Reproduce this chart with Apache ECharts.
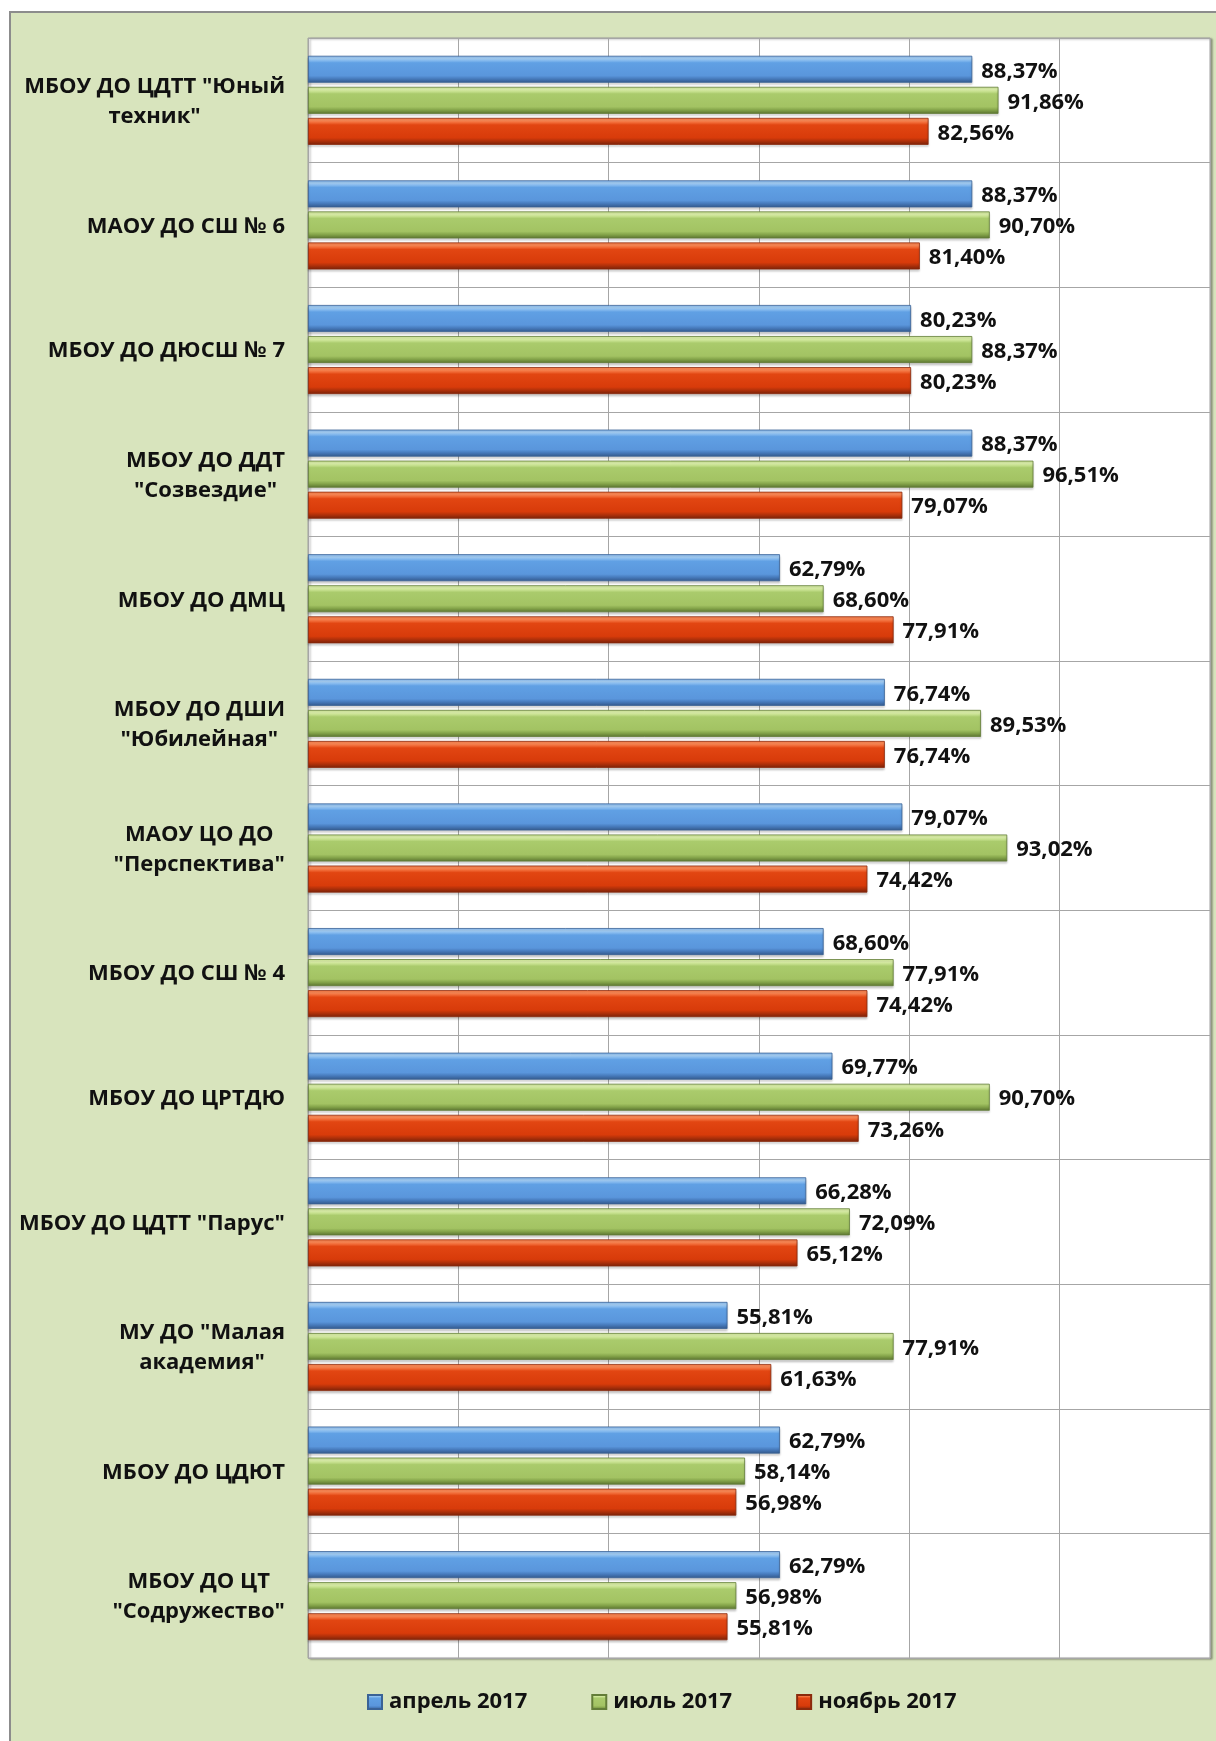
<!DOCTYPE html>
<html>
<head>
<meta charset="utf-8">
<script src="https://cdn.jsdelivr.net/npm/echarts@6/dist/echarts.min.js"></script>
<style>
  html, body { margin: 0; padding: 0; background: #ffffff; overflow: hidden; }
  #panel { position: absolute; left: 9px; top: 11px; width: 1300px; height: 1900px;
           background: #d8e4bd; border: 2px solid #8c8c8c; box-sizing: border-box; }
  #chart { position: absolute; left: 0; top: 0; width: 1216px; height: 1741px; }
</style>
</head>
<body>
<div id="panel"></div>
<div id="chart"></div>
<script>
const categories = [
  'МБОУ ДО ЦДТТ "Юный\nтехник"',
  'МАОУ ДО СШ № 6',
  'МБОУ ДО ДЮСШ № 7',
  'МБОУ ДО ДДТ\n"Созвездие"',
  'МБОУ ДО ДМЦ',
  'МБОУ ДО ДШИ\n"Юбилейная"',
  'МАОУ ЦО ДО\n"Перспектива"',
  'МБОУ ДО СШ № 4',
  'МБОУ ДО ЦРТДЮ',
  'МБОУ ДО ЦДТТ "Парус"',
  'МУ ДО "Малая\nакадемия"',
  'МБОУ ДО ЦДЮТ',
  'МБОУ ДО ЦТ\n"Содружество"'
];
const seriesNames = ['апрель 2017', 'июль 2017', 'ноябрь 2017'];
const april2017 = [88.37, 88.37, 80.23, 88.37, 62.79, 76.74, 79.07, 68.60, 69.77, 66.28, 55.81, 62.79, 62.79];
const july2017  = [91.86, 90.70, 88.37, 96.51, 68.60, 89.53, 93.02, 77.91, 90.70, 72.09, 77.91, 58.14, 56.98];
const nov2017   = [82.56, 81.40, 80.23, 79.07, 77.91, 76.74, 74.42, 74.42, 73.26, 65.12, 61.63, 56.98, 55.81];
const axisMin = 0, axisMax = 120, axisStep = 20;

const FONT = '"Open Sans", "Noto Sans", sans-serif';

function grad(stops) {
  return new echarts.graphic.LinearGradient(0, 0, 0, 1,
    stops.map(s => ({ offset: s[0], color: s[1] })));
}
const styles = [
  { fill: [[0,'#7fb2ea'],[0.1,'#a8d2f8'],[0.26,'#60a0e4'],[0.74,'#5a96dc'],[0.86,'#4679ba'],[1,'#33588a']], border: '#3a6296' },
  { fill: [[0,'#c4dd8e'],[0.1,'#e0f4ae'],[0.26,'#aacb6c'],[0.74,'#a3c363'],[0.86,'#83a349'],[1,'#5a7230']], border: '#637d38' },
  { fill: [[0,'#f47844'],[0.1,'#ff8c58'],[0.26,'#e24612'],[0.74,'#d83b0a'],[0.86,'#ae300a'],[1,'#782108']], border: '#8a2a0c' }
];
const dataSets = [april2017, july2017, nov2017];

const chart = echarts.init(document.getElementById('chart'), null, { renderer: 'canvas' });

const option = {
  backgroundColor: 'transparent',
  animation: false,
  grid: {
    left: 308, right: 6, top: 38, bottom: 83,
    show: true, backgroundColor: '#ffffff', borderColor: '#a0a0a0', borderWidth: 1,
    shadowColor: 'rgba(0,0,0,0.35)', shadowBlur: 2, shadowOffsetX: 2, shadowOffsetY: 1,
    containLabel: false
  },
  legend: {
    data: seriesNames,
    left: 362, top: 1686,
    itemWidth: 14, itemHeight: 14, itemGap: 64,
    icon: 'rect',
    textStyle: { fontFamily: FONT, fontSize: 22, fontWeight: 'bold', color: '#111111', padding: [0,0,0,2] }
  },
  xAxis: {
    type: 'value', min: axisMin, max: axisMax, interval: axisStep,
    axisLabel: { show: false }, axisLine: { show: false }, axisTick: { show: false },
    splitLine: { show: true, lineStyle: { color: '#a6a6a6', width: 1 } }
  },
  yAxis: {
    type: 'category', data: categories, inverse: true,
    axisTick: { show: false },
    axisLine: { show: false },
    splitLine: { show: true, lineStyle: { color: '#a6a6a6', width: 1 } },
    axisLabel: {
      margin: 23, align: 'right', padding: [3, 0, 0, 0],
      formatter: v => v.split('\n').map(l => '{c|' + l + '}').join('\n'),
      rich: { c: { align: 'center', fontFamily: FONT, fontSize: 22, fontWeight: 'bold', color: '#111111', lineHeight: 30 } }
    }
  },
  series: dataSets.map((d, i) => ({
    name: seriesNames[i],
    type: 'bar',
    data: d,
    barWidth: 27,
    barGap: '15%',
    itemStyle: { color: grad(styles[i].fill), borderColor: styles[i].border, borderWidth: 0.8,
                 shadowColor: 'rgba(0,0,0,0.18)', shadowBlur: 2, shadowOffsetY: 2 },
    label: {
      show: true, position: 'right', distance: 9, offset: [0, 2],
      fontFamily: FONT, fontSize: 22, fontWeight: 'bold', color: '#111111',
      formatter: p => p.value.toFixed(2).replace('.', ',') + '%'
    }
  }))
};
chart.setOption(option);
</script>
</body>
</html>
